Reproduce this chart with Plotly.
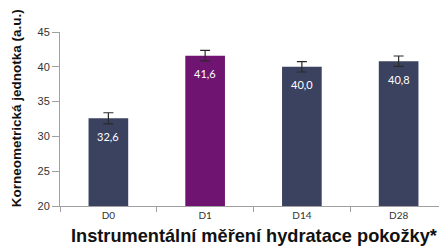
import plotly.graph_objects as go

categories = ["D0", "D1", "D14", "D28"]
values = [32.6, 41.6, 40.0, 40.8]
errors = [0.8, 0.75, 0.75, 0.75]
labels = ["32,6", "41,6", "40,0", "40,8"]
colors = ["#3b4260", "#6f1571", "#3b4260", "#3b4260"]

fig = go.Figure()
fig.add_trace(go.Bar(
    x=categories, y=values, width=0.41,
    marker=dict(color=colors, line=dict(width=0)),
    error_y=dict(type="data", array=errors, visible=True, color="#2a2a2a",
                 thickness=1.2, width=5),
    hoverinfo="skip",
))
for c, v, t in zip(categories, values, labels):
    fig.add_annotation(x=c, y=v, text=t, showarrow=False, yshift=-18,
                       font=dict(family="Lato, Arial", size=11, color="white"))

fig.add_annotation(xref="paper", yref="paper", x=0.503, y=-0.172, yanchor="middle",
                   xanchor="center", showarrow=False,
                   text="<b>Instrumentální měření hydratace pokožky*</b>",
                   font=dict(family="Liberation Sans, Arial", size=18.2, color="#111"))
fig.add_annotation(xref="paper", yref="paper", x=-0.112, y=0.56, textangle=-90,
                   xanchor="center", yanchor="middle", showarrow=False,
                   text="<b>Korneometrická jednotka (a.u.)</b>",
                   font=dict(family="Liberation Sans, Arial", size=13.5, color="#111"))

fig.update_layout(
    width=447, height=247,
    margin=dict(l=52, r=8, t=24, b=49),
    plot_bgcolor="white", paper_bgcolor="white",
    showlegend=False, bargap=0.59,
    font=dict(family="Arial", color="#333"),
)
fig.update_yaxes(
    range=[20, 45], tickvals=[20, 25, 30, 35, 40, 45], automargin=False,
    showgrid=False, zeroline=False,
    showline=True, linecolor="#a0a0a0", linewidth=1,
    ticks="outside", ticklen=7, tickcolor="#a0a0a0",
    tickfont=dict(family="Liberation Sans, Arial", size=11, color="#333"),
)
fig.update_xaxes(
    range=[-0.5, 3.5], showgrid=False, automargin=False,
    showline=True, linecolor="#a0a0a0", linewidth=1,
    ticks="outside", ticklen=5, tickcolor="#a0a0a0", tickson="boundaries",
    tickfont=dict(family="Lato, Arial", size=10, color="#333"),
)
fig.write_html("out.html")
